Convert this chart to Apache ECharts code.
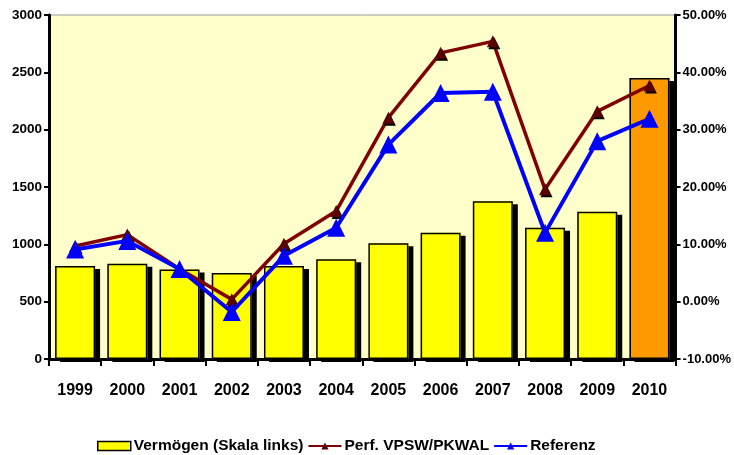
<!DOCTYPE html>
<html>
<head>
<meta charset="utf-8">
<script src="https://cdn.jsdelivr.net/npm/echarts@6/dist/echarts.min.js"></script>
<style>
  html, body { margin: 0; padding: 0; background: #fff; }
  #chart { width: 734px; height: 455px; }
</style>
</head>
<body>
<div id="chart"></div>
<script>
var years = ['1999', '2000', '2001', '2002', '2003', '2004', '2005', '2006', '2007', '2008', '2009', '2010'];
var vermoegen = [810, 830, 780, 750, 810, 870, 1010, 1100, 1375, 1145, 1285, 2450];
var perfVpsw = [9.7, 11.7, 5.7, 0.4, 10.1, 15.8, 32.1, 43.4, 45.4, 19.6, 33.2, 37.7];
var referenz = [9.1, 10.6, 5.7, -1.8, 8.0, 12.9, 27.4, 36.4, 36.6, 12.0, 28.0, 31.9];

var font = '"Liberation Sans", Arial, sans-serif';

var chart = echarts.init(document.getElementById('chart'));

function barColor(p) {
  return p.dataIndex === years.length - 1 ? '#FF9900' : '#FFFF00';
}

var option = {
  animation: false,
  grid: {
    left: 49,
    right: 58,
    top: 15,
    bottom: 96,
    show: true,
    backgroundColor: '#FFFFCC',
    borderColor: '#999',
    borderWidth: 1
  },
  legend: {
    left: 92,
    top: 433,
    itemGap: 4,
    itemWidth: 33,
    itemHeight: 9,
    textStyle: { fontFamily: font, fontWeight: 'bold', fontSize: 15.5, color: '#000', padding: [0, 0, 0, -2] },
    data: [
      { name: 'Vermögen (Skala links)', icon: 'rect', itemStyle: { color: '#FFFF00', borderColor: '#000', borderWidth: 1.5, shadowBlur: 0, shadowOffsetX: 0, shadowOffsetY: 0 } },
      { name: 'Perf. VPSW/PKWAL' },
      { name: 'Referenz' }
    ]
  },
  xAxis: {
    type: 'category',
    data: years,
    axisLine: { lineStyle: { color: '#000', width: 3 } },
    axisTick: { show: true, alignWithLabel: false, length: 7, lineStyle: { color: '#000', width: 2 } },
    axisLabel: { interval: 0, margin: 24, fontFamily: font, fontWeight: 'bold', fontSize: 16, color: '#000' }
  },
  yAxis: [
    {
      type: 'value',
      min: 0,
      max: 3000,
      interval: 500,
      splitLine: { show: false },
      axisLine: { show: true, lineStyle: { color: '#000', width: 3 } },
      axisTick: { show: true, length: 5, lineStyle: { color: '#000', width: 2 } },
      axisLabel: {
        margin: 7, fontFamily: font, fontWeight: 'bold', fontSize: 13.5, color: '#000',
        formatter: function (v) { return String(v); }
      }
    },
    {
      type: 'value',
      min: -10,
      max: 50,
      interval: 10,
      position: 'right',
      splitLine: { show: false },
      axisLine: { show: true, lineStyle: { color: '#000', width: 3 } },
      axisTick: { show: true, length: 5, lineStyle: { color: '#000', width: 2 } },
      axisLabel: {
        margin: 7, fontFamily: font, fontWeight: 'bold', fontSize: 13, color: '#000',
        formatter: function (v) { return v.toFixed(2) + '%'; }
      }
    }
  ],
  series: [
    {
      // fill + drop shadow
      name: 'Vermögen (Skala links)',
      type: 'bar',
      barWidth: 40,
      z: 2,
      itemStyle: {
        color: barColor,
        borderWidth: 0,
        shadowColor: '#000',
        shadowBlur: 0,
        shadowOffsetX: 5,
        shadowOffsetY: 3
      },
      data: vermoegen
    },
    {
      // outline drawn on top, no shadow
      name: 'Vermögen (Skala links)',
      type: 'bar',
      barWidth: 40,
      barGap: '-100%',
      z: 2,
      silent: true,
      itemStyle: {
        color: 'rgba(0,0,0,0)',
        borderColor: '#000',
        borderWidth: 1.5
      },
      data: vermoegen
    },
    {
      name: 'Perf. VPSW/PKWAL',
      type: 'line',
      yAxisIndex: 1,
      z: 3,
      symbol: 'triangle',
      symbolSize: 12,
      lineStyle: { color: '#800000', width: 3.5 },
      itemStyle: { color: '#5a0000', shadowColor: '#000', shadowBlur: 0, shadowOffsetX: 1.5, shadowOffsetY: 2 },
      data: perfVpsw
    },
    {
      name: 'Referenz',
      type: 'line',
      yAxisIndex: 1,
      z: 4,
      symbol: 'triangle',
      symbolSize: 18,
      lineStyle: { color: '#0000FF', width: 4 },
      itemStyle: { color: '#0000FF' },
      data: referenz
    }
  ]
};
chart.setOption(option);
</script>
</body>
</html>
